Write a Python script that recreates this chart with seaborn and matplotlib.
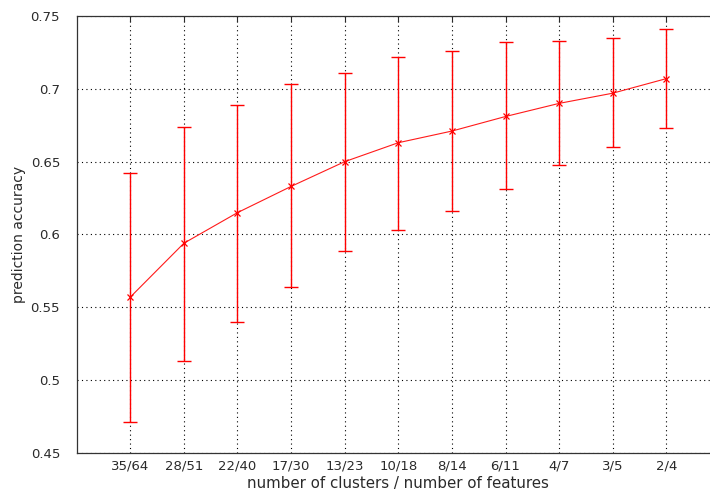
import matplotlib
matplotlib.use("Agg")
import matplotlib.pyplot as plt
import seaborn as sns
import numpy as np
import pandas as pd

# cluster/feature settings and accuracy statistics
labels = ["35/64", "28/51", "22/40", "17/30", "13/23", "10/18", "8/14", "6/11", "4/7", "3/5", "2/4"]
mean_acc = [0.557, 0.594, 0.615, 0.633, 0.650, 0.663, 0.671, 0.681, 0.690, 0.697, 0.707]
upper_acc = [0.642, 0.674, 0.689, 0.703, 0.711, 0.722, 0.726, 0.732, 0.733, 0.735, 0.741]
lower_acc = [0.471, 0.513, 0.540, 0.564, 0.589, 0.603, 0.616, 0.631, 0.648, 0.660, 0.673]

sns.set_style("white")
plt.rcParams["font.family"] = ["DejaVu Sans"]

pos = np.arange(1, len(labels) + 1)
df = pd.DataFrame({"pos": pos, "acc": mean_acc})

fig = plt.figure(figsize=(7.10, 4.98), dpi=100)
ax = fig.add_axes([0.108, 0.0904, 0.906, 0.8775])

mean = np.array(mean_acc)
yerr = np.vstack([mean - np.array(lower_acc), np.array(upper_acc) - mean])
ax.errorbar(pos, mean, yerr=yerr, fmt="none", ecolor="#ff0000", elinewidth=1.0,
            capsize=4.7, capthick=1.0, zorder=3)
sns.lineplot(data=df, x="pos", y="acc", ax=ax, color="#ff1a1a", linewidth=0.8,
             marker="x", markersize=5, markeredgewidth=0.9, markeredgecolor="#ff0000",
             zorder=4)

ax.set_xlim(0, 12)
ax.set_ylim(0.45, 0.75)
ax.set_xticks(pos)
ax.set_xticklabels(labels)
ax.set_yticks([0.45, 0.5, 0.55, 0.6, 0.65, 0.7, 0.75])
ax.set_yticklabels(["0.45", "0.5", "0.55", "0.6", "0.65", "0.7", "0.75"])
ax.grid(True, color="black", linestyle=(0, (1, 3)), linewidth=0.8)
ax.tick_params(direction="in", length=4, width=0.8, top=True, right=False,
               labelsize=9.5, colors="#2a2a2a")
ax.tick_params(axis="y", pad=12)
ax.tick_params(axis="x", pad=5)
for side in ["top", "bottom", "left", "right"]:
    ax.spines[side].set_color("#333333")
    ax.spines[side].set_linewidth(0.9)
    ax.spines[side].set_visible(True)

ax.set_xlabel("number of clusters / number of features", fontsize=10.8, color="#2a2a2a", labelpad=2)
ax.set_ylabel("prediction accuracy", fontsize=10, color="#2a2a2a", labelpad=3)

fig.savefig("out.png", dpi=100)
